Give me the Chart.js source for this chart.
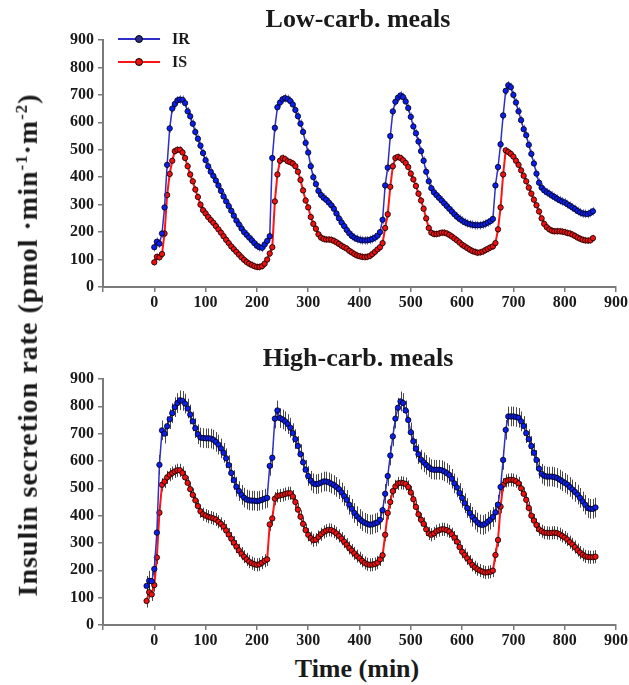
<!DOCTYPE html>
<html>
<head>
<meta charset="utf-8">
<script src="https://cdn.jsdelivr.net/npm/chart.js@4.4.1/dist/chart.umd.min.js"></script>
<style>
  body { margin: 0; background: #fff; }
  #page { position: relative; width: 629px; height: 685px; overflow: hidden;
          font-family: "Liberation Serif", "Times New Roman", serif; font-weight: bold; color: #1a1a1a; }
  canvas { position: absolute; left: 0; }
  #lowCanvas { top: 0; }
  #highCanvas { top: 340px; }
  .panelTitle { position: absolute; left: 358px; transform: translateX(-50%); font-size: 26px; white-space: nowrap; }
  #ylabel { position: absolute; left: 28px; top: 345px; transform: translate(-50%, -50%) rotate(-90deg);
            white-space: nowrap; font-size: 28px; letter-spacing: 1px; }
  #ylabel sup { font-size: 60%; }
  #xlabel { position: absolute; left: 357px; top: 654px; transform: translateX(-50%); font-size: 26px; white-space: nowrap; }
</style>
</head>
<body>
<div id="page">
  <canvas id="lowCanvas" width="629" height="310"></canvas>
  <canvas id="highCanvas" width="629" height="308"></canvas>
  <div class="panelTitle" style="top:4px">Low-carb. meals</div>
  <div class="panelTitle" style="top:343px">High-carb. meals</div>
  <div id="ylabel">Insulin secretion rate (pmol ·min<sup>-1</sup>·m<sup>-2</sup>)</div>
  <div id="xlabel">Time (min)</div>
</div>
<script>
// sample times (min)
const timeLow = [
  0,5,10,15,20,25,30,35,40,45, 50,55,60,65,70,75,80,85,90,95,
  100,105,110,115,120,125,130,135,140,145, 150,155,160,165,170,175,180,185,190,195,
  200,205,210,215,220,225,230,235,240,245, 250,255,260,265,270,275,280,285,290,295,
  300,305,310,315,320,325,330,335,340,345, 350,355,360,365,370,375,380,385,390,395,
  400,405,410,415,420,425,430,435,440,445, 450,455,460,465,470,475,480,485,490,495,
  500,505,510,515,520,525,530,535,540,545, 550,555,560,565,570,575,580,585,590,595,
  600,605,610,615,620,625,630,635,640,645, 650,655,660,665,670,675,680,685,690,695,
  700,705,710,715,720,725,730,735,740,745, 750,755,760,765,770,775,780,785,790,795,
  800,805,810,815,820,825,830,835,840,845, 850,855
];
const timeHigh = [
  -15,-10,-5,
  0,5,10,15,20,25,30,35,40,45, 50,55,60,65,70,75,80,85,90,95,
  100,105,110,115,120,125,130,135,140,145, 150,155,160,165,170,175,180,185,190,195,
  200,205,210,215,220,225,230,235,240,245, 250,255,260,265,270,275,280,285,290,295,
  300,305,310,315,320,325,330,335,340,345, 350,355,360,365,370,375,380,385,390,395,
  400,405,410,415,420,425,430,435,440,445, 450,455,460,465,470,475,480,485,490,495,
  500,505,510,515,520,525,530,535,540,545, 550,555,560,565,570,575,580,585,590,595,
  600,605,610,615,620,625,630,635,640,645, 650,655,660,665,670,675,680,685,690,695,
  700,705,710,715,720,725,730,735,740,745, 750,755,760,765,770,775,780,785,790,795,
  800,805,810,815,820,825,830,835,840,845, 850,855,860
];

// low-carb panel
const lowIR = [
  145,165,158,195,290,445,578,650,667,680, 683,682,670,640,622,595,565,540,515,488,
  462,440,420,405,388,370,350,330,312,295, 278,260,242,228,213,200,190,180,170,160,
  150,145,143,155,168,185,470,580,655,672, 684,688,685,678,665,645,622,595,565,525,
  490,440,400,375,350,335,325,318,308,298, 285,268,250,235,222,208,196,186,180,175,
  172,170,170,170,172,175,180,187,200,245, 370,435,550,640,675,690,698,692,676,652,
  620,585,560,530,495,460,420,385,360,345, 335,325,315,305,295,285,275,265,256,248,
  242,236,232,229,227,225,225,225,227,230, 235,240,248,370,437,520,625,715,735,728,
  700,672,640,608,575,553,518,485,450,413, 380,362,352,345,340,333,328,322,316,312,
  308,302,296,290,284,277,272,268,267,266, 270,276
];
const lowIS = [
  90,110,108,120,195,335,412,460,495,500, 500,490,470,440,410,385,355,328,300,280,
  268,255,244,234,222,210,198,185,172,160, 148,138,128,118,108,99,91,85,80,76,
  73,73,76,85,100,122,145,312,410,460, 470,466,458,455,450,440,420,390,352,315,
  290,255,230,212,192,180,175,173,173,172, 168,163,157,150,145,140,132,126,120,115,
  112,110,109,110,113,120,128,137,145,160, 215,265,365,440,470,474,470,462,452,437,
  413,392,368,340,315,285,250,215,198,193, 193,195,198,198,195,190,184,177,170,162,
  154,148,142,136,131,128,125,126,129,134, 139,144,148,160,210,290,410,498,492,485,
  475,460,445,425,405,385,362,340,318,298, 275,250,230,218,210,205,203,203,203,202,
  200,197,195,191,186,180,176,172,170,169, 170,178
];

// high-carb panel
const highIR = [
  143,162,160,
  205,338,586,712,700,727,753,775,797,812, 822,820,810,792,770,745,720,698,686,684,
  683,683,682,678,670,660,646,630,610,585, 556,530,506,490,476,466,459,456,455,455,
  453,455,458,462,465,582,612,755,785,757, 752,745,735,722,702,680,655,625,595,568,
  545,528,518,515,517,521,525,525,522,517, 512,505,497,485,472,458,440,425,410,398,
  388,380,374,370,367,368,372,375,385,420, 480,545,620,690,755,795,818,812,785,750,
  705,672,645,625,605,595,586,577,570,568, 568,568,566,562,556,549,535,518,503,483,
  465,446,428,410,396,385,375,368,366,370, 378,385,395,412,440,505,604,714,763,763,
  763,761,758,745,728,702,680,655,630,604, 572,553,546,543,543,543,541,538,532,526,
  520,514,505,496,487,477,465,452,440,428, 425,425,430
];
const highIS = [
  88,120,112,
  146,247,411,513,525,540,550,556,562,566, 566,556,540,520,497,476,456,435,416,405,
  400,396,393,390,386,378,370,360,346,331, 316,301,287,273,261,250,240,232,226,222,
  220,222,228,235,240,368,390,462,472,474, 476,479,482,482,470,450,422,396,370,347,
  330,318,310,312,322,332,340,345,348,347, 342,335,326,316,305,294,282,272,262,252,
  244,235,227,222,220,221,223,228,240,255, 330,410,450,490,507,518,520,519,516,505,
  485,460,432,405,385,370,350,335,330,335, 343,347,350,350,347,342,332,320,305,285,
  268,256,244,232,220,211,204,199,195,192, 193,195,199,256,311,433,513,527,530,531,
  530,526,518,500,480,458,428,400,382,366, 350,343,338,337,336,337,338,336,332,326,
  320,313,303,295,285,274,265,257,251,249, 248,248,250
];

// approximate SEM per series
const semLowIR = 16;
const semLowIS = 13;
const semHighIR = 36;
const semHighIS = 24;

const xTicks = [0, 100, 200, 300, 400, 500, 600, 700, 800, 900];
const yTicks = [0, 100, 200, 300, 400, 500, 600, 700, 800, 900];

const tickFont = { family: "'Liberation Serif', serif", size: 16, weight: 'bold' };
const axisGray = '#7a7a7a';

function points(times, values) {
  return times.map((t, i) => ({ x: t, y: values[i] }));
}

// vertical error bars, drawn under the lines and markers
const errorBars = {
  id: 'errorBars',
  beforeDatasetsDraw(chart) {
    const { ctx, scales: { x, y } } = chart;
    chart.data.datasets.forEach((ds) => {
      ctx.save();
      ctx.strokeStyle = ds.errColor;
      ctx.lineWidth = 1;
      ds.data.forEach((p) => {
        const px = Math.round(x.getPixelForValue(p.x)) + 0.5;
        ctx.beginPath();
        ctx.moveTo(px, y.getPixelForValue(p.y - ds.sem));
        ctx.lineTo(px, y.getPixelForValue(p.y + ds.sem));
        ctx.stroke();
      });
      ctx.restore();
    });
  }
};

// line-with-marker legend in the top-left corner
const cornerLegend = {
  id: 'cornerLegend',
  afterDraw(chart, args, opts) {
    if (!opts.show) return;
    const ctx = chart.ctx;
    const left = chart.chartArea.left + 15;
    chart.data.datasets.forEach((ds, i) => {
      const yy = 39 + i * 23;
      ctx.save();
      ctx.strokeStyle = ds.borderColor;
      ctx.lineWidth = 2;
      ctx.beginPath();
      ctx.moveTo(left, yy);
      ctx.lineTo(left + 42, yy);
      ctx.stroke();
      ctx.beginPath();
      ctx.arc(left + 21, yy, 3.5, 0, Math.PI * 2);
      ctx.fillStyle = ds.legendFill;
      ctx.fill();
      ctx.strokeStyle = '#000';
      ctx.lineWidth = 1;
      ctx.stroke();
      ctx.fillStyle = '#1a1a1a';
      ctx.font = "bold 16px 'Liberation Serif', serif";
      ctx.textBaseline = 'middle';
      ctx.fillText(ds.label, left + 54, yy + 1);
      ctx.restore();
    });
  }
};

function makePanel(canvasId, times, ir, is, semIR, semIS, errIR, errIS, padTop, showLegend) {
  new Chart(document.getElementById(canvasId), {
    type: 'line',
    data: {
      datasets: [
        {
          label: 'IR',
          data: points(times, ir),
          sem: semIR,
          errColor: errIR,
          borderColor: '#2f2fc8',
          borderWidth: 1.5,
          pointRadius: 2.7,
          pointBackgroundColor: '#0a1ef0',
          pointBorderColor: '#000',
          pointBorderWidth: 0.8,
          legendFill: '#2c2c90',
          tension: 0
        },
        {
          label: 'IS',
          data: points(times, is),
          sem: semIS,
          errColor: errIS,
          borderColor: '#ff1414',
          borderWidth: 2,
          pointRadius: 2.7,
          pointBackgroundColor: '#f01010',
          pointBorderColor: '#000',
          pointBorderWidth: 0.8,
          legendFill: '#f01010',
          tension: 0
        }
      ]
    },
    options: {
      responsive: false,
      animation: false,
      layout: { padding: { top: padTop, left: 0, right: 12, bottom: 0 } },
      plugins: {
        legend: { display: false },
        tooltip: { enabled: false },
        cornerLegend: { show: showLegend }
      },
      scales: {
        x: {
          type: 'linear',
          min: -100,
          max: 900,
          afterBuildTicks: (scale) => { scale.ticks = [-100].concat(xTicks).map(v => ({ value: v })); },
          afterFit: (scale) => { scale.height = 23; },
          ticks: {
            font: tickFont,
            color: '#1a1a1a',
            padding: 1,
            maxRotation: 0,
            callback: (v) => (v < 0 ? '' : v)
          },
          grid: { drawOnChartArea: false, drawTicks: true, tickLength: 5, color: axisGray, lineWidth: 1.5 },
          border: { color: axisGray, width: 2 }
        },
        y: {
          min: 0,
          max: 900,
          afterBuildTicks: (scale) => { scale.ticks = yTicks.map(v => ({ value: v })); },
          afterFit: (scale) => { scale.width = 103; },
          ticks: { font: tickFont, color: '#1a1a1a', padding: 4 },
          grid: { drawOnChartArea: false, drawTicks: true, tickLength: 5, color: axisGray, lineWidth: 1.5 },
          border: { color: axisGray, width: 2 }
        }
      }
    },
    plugins: [errorBars, cornerLegend]
  });
}

makePanel('lowCanvas', timeLow, lowIR, lowIS, semLowIR, semLowIS,
  'rgba(80, 80, 255, 0.75)', 'rgba(255, 70, 70, 0.75)', 40, true);
makePanel('highCanvas', timeHigh, highIR, highIS, semHighIR, semHighIS,
  'rgba(40, 40, 40, 0.85)', 'rgba(40, 40, 40, 0.85)', 39, false);
</script>
</body>
</html>
